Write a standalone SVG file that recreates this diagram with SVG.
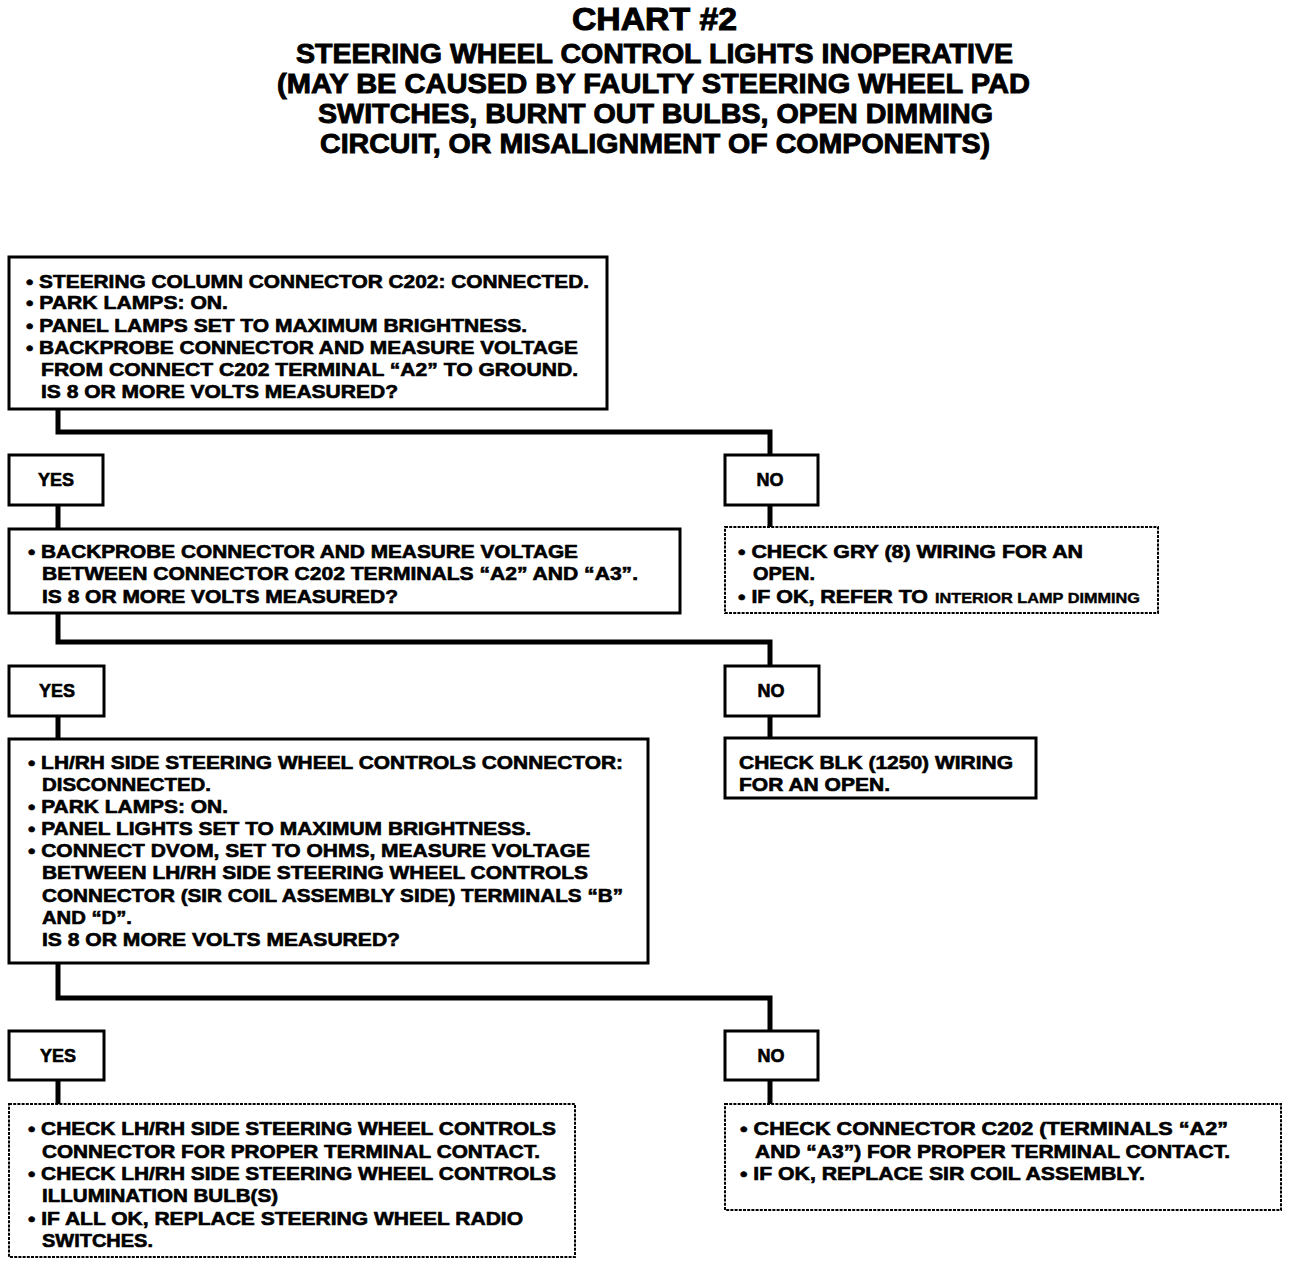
<svg xmlns="http://www.w3.org/2000/svg" width="1296" height="1266" viewBox="0 0 1296 1266">
<style>
text{font-family:"Liberation Sans",Arial,sans-serif;font-weight:bold;fill:#000;stroke:#000;stroke-width:0.6}
.t{font-size:18px}
.s{font-size:14px;stroke-width:0.4}
.h1{font-size:32px;stroke-width:1}
.h2{font-size:27px;stroke-width:0.9}
.box{fill:#fff;stroke:#000;stroke-width:3}
.dot{fill:#fff;stroke:#000;stroke-width:2;stroke-dasharray:3 1.2}
.lbl{font-size:18px;text-anchor:middle}
.con{fill:none;stroke:#000;stroke-width:5;stroke-linejoin:miter}
</style>
<rect width="1296" height="1266" fill="#fff"/>
<g id="title">
<text class="h1" x="572" y="30" textLength="165" lengthAdjust="spacingAndGlyphs">CHART #2</text>
<text class="h2" x="296" y="63" textLength="717" lengthAdjust="spacingAndGlyphs">STEERING WHEEL CONTROL LIGHTS INOPERATIVE</text>
<text class="h2" x="277" y="93" textLength="753" lengthAdjust="spacingAndGlyphs">(MAY BE CAUSED BY FAULTY STEERING WHEEL PAD</text>
<text class="h2" x="318" y="123" textLength="675" lengthAdjust="spacingAndGlyphs">SWITCHES, BURNT OUT BULBS, OPEN DIMMING</text>
<text class="h2" x="320" y="153" textLength="670" lengthAdjust="spacingAndGlyphs">CIRCUIT, OR MISALIGNMENT OF COMPONENTS)</text>
</g>
<g id="connectors">
<path class="con" d="M58 409 V432 H770 V455"/>
<path class="con" d="M58 505 V529"/>
<path class="con" d="M770 505 V527"/>
<path class="con" d="M58 613 V642 H770 V666"/>
<path class="con" d="M58 716 V739"/>
<path class="con" d="M770 716 V738"/>
<path class="con" d="M58 963 V998 H770 V1031"/>
<path class="con" d="M58 1080 V1104"/>
<path class="con" d="M770 1080 V1104"/>
</g>
<g id="step1">
<rect class="box" x="9" y="257" width="598" height="152"/>
<text class="t" x="26" y="288" textLength="563" lengthAdjust="spacingAndGlyphs">• STEERING COLUMN CONNECTOR C202: CONNECTED.</text>
<text class="t" x="26" y="309" textLength="202" lengthAdjust="spacingAndGlyphs">• PARK LAMPS: ON.</text>
<text class="t" x="26" y="332" textLength="501" lengthAdjust="spacingAndGlyphs">• PANEL LAMPS SET TO MAXIMUM BRIGHTNESS.</text>
<text class="t" x="26" y="354" textLength="552" lengthAdjust="spacingAndGlyphs">• BACKPROBE CONNECTOR AND MEASURE VOLTAGE</text>
<text class="t" x="41" y="376" textLength="537" lengthAdjust="spacingAndGlyphs">FROM CONNECT C202 TERMINAL “A2” TO GROUND.</text>
<text class="t" x="41" y="398" textLength="357" lengthAdjust="spacingAndGlyphs">IS 8 OR MORE VOLTS MEASURED?</text>
</g>
<g id="yes1">
<rect class="box" x="9" y="455" width="94" height="50"/>
<text class="lbl" x="56" y="486">YES</text>
</g>
<g id="no1">
<rect class="box" x="725" y="455" width="93" height="50"/>
<text class="lbl" x="770" y="486">NO</text>
</g>
<g id="step2">
<rect class="box" x="9" y="529" width="671" height="84"/>
<text class="t" x="28" y="558" textLength="550" lengthAdjust="spacingAndGlyphs">• BACKPROBE CONNECTOR AND MEASURE VOLTAGE</text>
<text class="t" x="42" y="580" textLength="596" lengthAdjust="spacingAndGlyphs">BETWEEN CONNECTOR C202 TERMINALS “A2” AND “A3”.</text>
<text class="t" x="42" y="603" textLength="356" lengthAdjust="spacingAndGlyphs">IS 8 OR MORE VOLTS MEASURED?</text>
</g>
<g id="result-no1">
<rect class="dot" x="725" y="527" width="433" height="86"/>
<text class="t" x="738" y="558" textLength="345" lengthAdjust="spacingAndGlyphs">• CHECK GRY (8) WIRING FOR AN</text>
<text class="t" x="753" y="580" textLength="62" lengthAdjust="spacingAndGlyphs">OPEN.</text>
<text class="t" x="738" y="603" textLength="190" lengthAdjust="spacingAndGlyphs">• IF OK, REFER TO</text>
<text class="s" x="935" y="603" textLength="205" lengthAdjust="spacingAndGlyphs">INTERIOR LAMP DIMMING</text>
</g>
<g id="yes2">
<rect class="box" x="9" y="666" width="95" height="50"/>
<text class="lbl" x="57" y="697">YES</text>
</g>
<g id="no2">
<rect class="box" x="725" y="666" width="94" height="50"/>
<text class="lbl" x="771" y="697">NO</text>
</g>
<g id="step3">
<rect class="box" x="9" y="739" width="639" height="224"/>
<text class="t" x="28" y="769" textLength="595" lengthAdjust="spacingAndGlyphs">• LH/RH SIDE STEERING WHEEL CONTROLS CONNECTOR:</text>
<text class="t" x="42" y="791" textLength="169" lengthAdjust="spacingAndGlyphs">DISCONNECTED.</text>
<text class="t" x="28" y="813" textLength="200" lengthAdjust="spacingAndGlyphs">• PARK LAMPS: ON.</text>
<text class="t" x="28" y="835" textLength="503" lengthAdjust="spacingAndGlyphs">• PANEL LIGHTS SET TO MAXIMUM BRIGHTNESS.</text>
<text class="t" x="28" y="857" textLength="562" lengthAdjust="spacingAndGlyphs">• CONNECT DVOM, SET TO OHMS, MEASURE VOLTAGE</text>
<text class="t" x="42" y="879" textLength="546" lengthAdjust="spacingAndGlyphs">BETWEEN LH/RH SIDE STEERING WHEEL CONTROLS</text>
<text class="t" x="42" y="902" textLength="581" lengthAdjust="spacingAndGlyphs">CONNECTOR (SIR COIL ASSEMBLY SIDE) TERMINALS “B”</text>
<text class="t" x="42" y="924" textLength="90" lengthAdjust="spacingAndGlyphs">AND “D”.</text>
<text class="t" x="42" y="946" textLength="358" lengthAdjust="spacingAndGlyphs">IS 8 OR MORE VOLTS MEASURED?</text>
</g>
<g id="result-no2">
<rect class="box" x="725" y="738" width="311" height="60"/>
<text class="t" x="739" y="769" textLength="274" lengthAdjust="spacingAndGlyphs">CHECK BLK (1250) WIRING</text>
<text class="t" x="739" y="791" textLength="151" lengthAdjust="spacingAndGlyphs">FOR AN OPEN.</text>
</g>
<g id="yes3">
<rect class="box" x="9" y="1031" width="95" height="49"/>
<text class="lbl" x="58" y="1062">YES</text>
</g>
<g id="no3">
<rect class="box" x="725" y="1031" width="93" height="49"/>
<text class="lbl" x="771" y="1062">NO</text>
</g>
<g id="result-yes3">
<rect class="dot" x="9" y="1104" width="566" height="153"/>
<text class="t" x="28" y="1135" textLength="528" lengthAdjust="spacingAndGlyphs">• CHECK LH/RH SIDE STEERING WHEEL CONTROLS</text>
<text class="t" x="42" y="1158" textLength="498" lengthAdjust="spacingAndGlyphs">CONNECTOR FOR PROPER TERMINAL CONTACT.</text>
<text class="t" x="28" y="1180" textLength="528" lengthAdjust="spacingAndGlyphs">• CHECK LH/RH SIDE STEERING WHEEL CONTROLS</text>
<text class="t" x="42" y="1202" textLength="236" lengthAdjust="spacingAndGlyphs">ILLUMINATION BULB(S)</text>
<text class="t" x="28" y="1225" textLength="495" lengthAdjust="spacingAndGlyphs">• IF ALL OK, REPLACE STEERING WHEEL RADIO</text>
<text class="t" x="42" y="1247" textLength="111" lengthAdjust="spacingAndGlyphs">SWITCHES.</text>
</g>
<g id="result-no3">
<rect class="dot" x="725" y="1104" width="556" height="106"/>
<text class="t" x="740" y="1135" textLength="488" lengthAdjust="spacingAndGlyphs">• CHECK CONNECTOR C202 (TERMINALS “A2”</text>
<text class="t" x="755" y="1158" textLength="475" lengthAdjust="spacingAndGlyphs">AND “A3”) FOR PROPER TERMINAL CONTACT.</text>
<text class="t" x="740" y="1180" textLength="405" lengthAdjust="spacingAndGlyphs">• IF OK, REPLACE SIR COIL ASSEMBLY.</text>
</g>
</svg>
